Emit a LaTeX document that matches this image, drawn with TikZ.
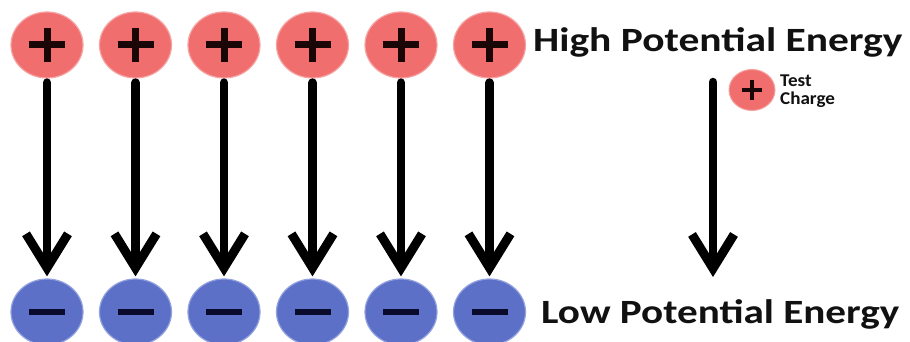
\documentclass[tikz,border=0pt]{standalone}
\usepackage{fontspec}
\setmainfont{Carlito}
\usetikzlibrary{shapes.geometric,arrows.meta}
\definecolor{posfill}{HTML}{F06E6E}
\definecolor{posedge}{HTML}{F6A3A3}
\definecolor{negfill}{HTML}{5C70C8}
\definecolor{negedge}{HTML}{93A2DE}
\definecolor{plusc}{HTML}{1A0606}
\definecolor{minusc}{HTML}{0A0A2C}
\definecolor{textc}{HTML}{111111}
\begin{document}
\begin{tikzpicture}[x=1pt,y=-1pt,
  poscharge/.style={ellipse, fill=posfill, draw=posedge, line width=1.2pt,
    minimum width=72pt, minimum height=66pt, inner sep=0pt},
  negcharge/.style={ellipse, fill=negfill, draw=negedge, line width=1.2pt,
    minimum width=72pt, minimum height=66pt, inner sep=0pt},
  plussign/.style={draw=plusc, line width=7pt},
  minussign/.style={draw=minusc, line width=6pt},
  field/.style={draw=black, line width=8.5pt, line cap=round,
    -{Straight Barb[length=34pt,width=42pt,line width=9pt]}},
  energytext/.style={anchor=base west, inner sep=0pt, text=textc,
    font=\bfseries\fontsize{34}{40}\selectfont},
  smalltext/.style={anchor=base west, inner sep=0pt, text=textc,
    font=\bfseries\fontsize{18}{20}\selectfont}
]
\useasboundingbox[fill=white] (0,0) rectangle (910,342);
\foreach \i/\cx in {1/47,2/135.5,3/224,4/312.5,5/401,6/489.5} {
  \node[poscharge] (p\i) at (\cx,45) {};
  \node[negcharge] (n\i) at (\cx,312) {};
  \draw[plussign] ([xshift=-18pt]p\i.center) -- ([xshift=18pt]p\i.center)
                  ([yshift=-17pt]p\i.center) -- ([yshift=17pt]p\i.center);
  \draw[minussign] ([xshift=-18pt]n\i.center) -- ([xshift=18pt]n\i.center);
  \draw[field, shorten <=4pt, shorten >=2pt] (p\i) -- (n\i);
}
\node[energytext] (high) at (533,52) {\scalebox{1.22}[1]{High Potential Energy}};
\node[energytext] (low) at (541,323) {\scalebox{1.21}[1]{Low Potential Energy}};
% test charge
\node[ellipse, fill=posfill, draw=posedge, line width=1pt,
  minimum width=46pt, minimum height=41pt, inner sep=0pt] (tc) at (752,90) {};
\draw[draw=plusc, line width=4pt] ([xshift=-10pt]tc.center) -- ([xshift=10pt]tc.center)
  ([yshift=-10pt]tc.center) -- ([yshift=10pt]tc.center);
\node[smalltext] (tc1) at (780,87) {\scalebox{1.06}[1]{Test}};
\node[smalltext] (tc2) at (780,105) {\scalebox{1.06}[1]{Charge}};
\coordinate (ts) at (713,82);
\coordinate (te) at (713,277);
\draw[field] (ts) -- (te);
\end{tikzpicture}
\end{document}
